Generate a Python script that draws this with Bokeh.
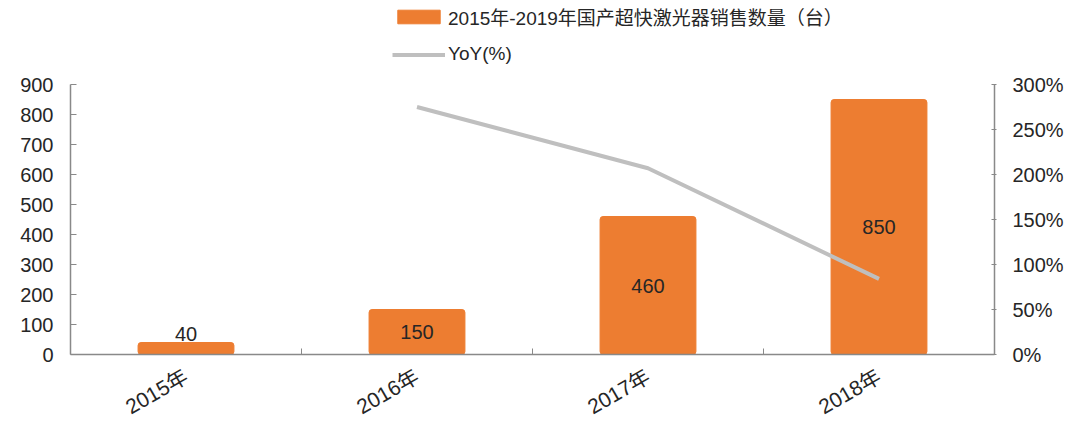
from bokeh.plotting import figure
from bokeh.models import (Range1d, LinearAxis, FixedTicker, PrintfTickFormatter,
                          ColumnDataSource, Legend, LegendItem, LabelSet)
from bokeh.core.properties import value
from bokeh.embed import file_html
from bokeh.resources import INLINE
import math

# ---- data ----
categories = ["2015年", "2016年", "2017年", "2018年"]
sales = [40, 150, 460, 850]
yoy = [float("nan"), 275, 207, 84]
bar_name = "2015年-2019年国产超快激光器销售数量（台）"
line_name = "YoY(%)"

FONT = "'Liberation Sans', Arial, 'Noto Sans CJK SC'"
ORANGE = "#ED7D31"
GREY_LINE = "#BFBFBF"
AXIS_C = "#898989"
TXT = "#262626"

# layout constants (pixels)
W, H = 1080, 431
FRAME_BOTTOM = 354        # y of the zero line from the top
AXIS_TOP = 84             # y of the 900 / 300% ticks from the top
LEFT_MAX, RIGHT_MAX = 900, 300
axis_px = FRAME_BOTTOM - AXIS_TOP
scale = FRAME_BOTTOM / axis_px   # frame spans full height above the axis area

n = len(categories)
xs = [i + 0.5 for i in range(n)]
label_y = [max(v / 2, 70) for v in sales]
src = ColumnDataSource(dict(x=xs, sales=sales, yoy=yoy, ly=label_y,
                            txt=[str(v) for v in sales]))

p = figure(width=W, height=H, output_backend="svg", toolbar_location=None,
           x_range=Range1d(0, n), y_range=Range1d(0, LEFT_MAX * scale),
           min_border_left=70, min_border_right=86, min_border_top=0,
           min_border_bottom=H - FRAME_BOTTOM)
p.outline_line_color = None
p.xgrid.visible = False
p.ygrid.visible = False
p.xaxis.visible = False
p.yaxis.visible = False
p.background_fill_color = "white"

p.extra_y_ranges = {"yoy": Range1d(0, RIGHT_MAX * scale)}

# left axis
la = LinearAxis(ticker=FixedTicker(ticks=list(range(0, LEFT_MAX + 1, 100))),
                bounds=(0, LEFT_MAX))
# bottom axis
ba = LinearAxis(ticker=FixedTicker(ticks=xs, minor_ticks=list(range(1, n))),
                major_label_overrides={x: c for x, c in zip(xs, categories)},
                major_label_orientation=math.pi / 6)
# right axis
ra = LinearAxis(y_range_name="yoy", ticker=FixedTicker(ticks=list(range(0, RIGHT_MAX + 1, 50))),
                formatter=PrintfTickFormatter(format="%d%%"), bounds=(0, RIGHT_MAX))

for ax in (la, ba, ra):
    ax.axis_line_color = AXIS_C
    ax.axis_line_width = 1.5
    ax.major_tick_line_color = AXIS_C
    ax.minor_tick_line_color = AXIS_C
    ax.major_label_text_font = FONT
    ax.major_label_text_font_size = "20px"
    ax.major_label_text_color = TXT
    ax.major_tick_out = 0
    ax.minor_tick_out = 0

la.major_tick_in = 6
la.minor_tick_in = 0
la.major_label_standoff = 17
ra.major_tick_in = 3
ra.major_tick_out = 2
ra.minor_tick_in = 0
ra.major_label_standoff = 16
ba.major_tick_in = 0
ba.minor_tick_in = 6
ba.major_label_standoff = 20
ba.major_label_text_font_size = "21px"
ba.major_label_text_baseline = "top"

p.add_layout(la, "left")
p.add_layout(ba, "below")
p.add_layout(ra, "right")

bars = p.vbar(x="x", top="sales", width=0.415, source=src, color=ORANGE,
              border_radius=3)
line = p.line(x="x", y="yoy", source=src, y_range_name="yoy",
              line_color=GREY_LINE, line_width=4)

labels = LabelSet(x="x", y="ly", text="txt", source=src, text_align="center",
                  text_baseline="middle", text_font=value(FONT), text_font_size="20px",
                  text_color=TXT)
p.add_layout(labels)

legend = Legend(items=[LegendItem(label=bar_name, renderers=[bars]),
                       LegendItem(label=line_name, renderers=[line])],
                location=(322, 289), orientation="vertical",
                glyph_width=53, glyph_height=17, label_height=22, spacing=13,
                label_standoff=3, padding=0, margin=0,
                border_line_color=None, background_fill_alpha=0,
                label_text_font=FONT, label_text_font_size="19px",
                label_text_color=TXT)
p.add_layout(legend, "center")

open("out.html", "w").write(file_html(p, INLINE))
